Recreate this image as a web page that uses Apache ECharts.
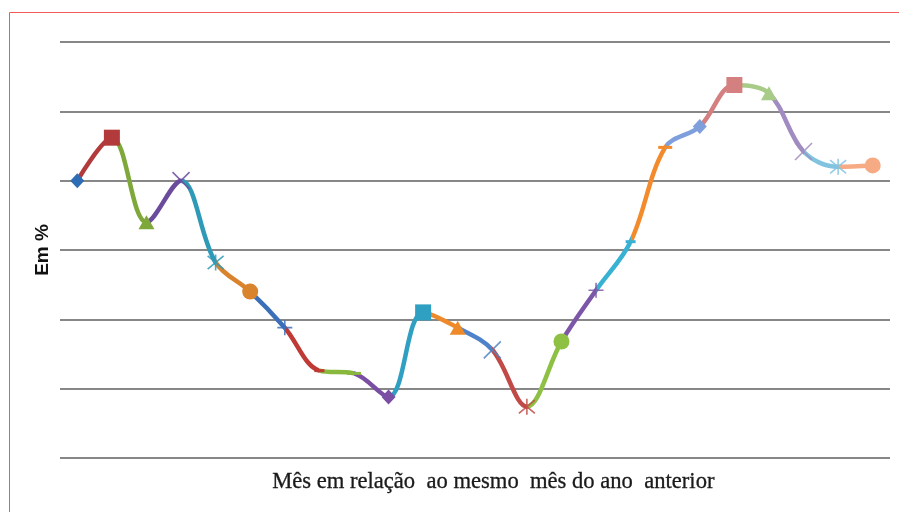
<!DOCTYPE html>
<html>
<head>
<meta charset="utf-8">
<script src="https://cdn.jsdelivr.net/npm/echarts@6/dist/echarts.min.js"></script>
<style>
  html, body { margin: 0; padding: 0; background: #ffffff; }
  #chart { width: 899px; height: 512px; }
</style>
</head>
<body>
<div id="chart"></div>
<script>
// Monthly variation, 24 consecutive months
const months = ['1','2','3','4','5','6','7','8','9','10','11','12',
                '13','14','15','16','17','18','19','20','21','22','23','24'];
const values = [2.00, 2.31, 1.70, 2.00, 1.41, 1.20, 0.94, 0.63, 0.61, 0.44, 1.05, 0.94,
                0.78, 0.37, 0.84, 1.21, 1.56, 2.24, 2.39, 2.69, 2.63, 2.21, 2.10, 2.11];

// y scale (gridlines only, no tick labels)
const yMin = 0, yMax = 3, yStep = 0.5;

// one colour per point; the segment reaching a point takes its colour
const pointColors = ['#2e6db3', '#b23a3a', '#7fa83a', '#6b4b9c', '#2f9ab8', '#d9832c',
                     '#3b70b8', '#bf3a34', '#88b83c', '#7a4ea3', '#2f9fc2', '#ee8a2a',
                     '#4f82c8', '#c24a46', '#8dc043', '#7d56a8', '#38b2d3', '#f38b2c',
                     '#7f9fdc', '#d48080', '#a8cc88', '#a08cc0', '#82c4df', '#f6ab85'];

// marker shapes repeat every nine points
const markerCycle = [
  { symbol: 'diamond', size: [14, 15], stroke: false },
  { symbol: 'rect', size: 16, stroke: false },
  { symbol: 'triangle', size: [16, 14], stroke: false },
  { symbol: 'path://M0,0L10,10M10,0L0,10', size: 17, stroke: true },
  { symbol: 'path://M0,0L10,10M10,0L0,10M5,-1L5,11', size: 16, stroke: true },
  { symbol: 'circle', size: 16, stroke: false },
  { symbol: 'path://M5,0L5,10M0,5L10,5', size: 15, stroke: true },
  { symbol: 'rect', size: [10, 3], stroke: false },
  { symbol: 'rect', size: [14, 3], stroke: false }
];

const seriesData = values.map((v, i) => {
  const m = markerCycle[i % markerCycle.length];
  const c = pointColors[i];
  return {
    value: v,
    symbol: m.symbol,
    symbolSize: m.size,
    itemStyle: m.stroke
      ? { color: c, borderColor: c, borderWidth: 1.6, opacity: 0.85 }
      : { color: c, borderColor: c, borderWidth: 0 }
  };
});

const pieces = pointColors.map((c, i) =>
  i === 0 ? { lte: 0, color: c } : { gt: i - 1, lte: i, color: c }
);

const chart = echarts.init(document.getElementById('chart'), null, { renderer: 'canvas' });

chart.setOption({
  animation: false,
  backgroundColor: '#ffffff',
  grid: { left: 60, right: 9, top: 42, bottom: 54 },
  xAxis: {
    type: 'category',
    data: months,
    boundaryGap: true,
    axisLine: { show: false },
    axisTick: { show: false },
    axisLabel: { show: false },
    splitLine: { show: false }
  },
  yAxis: {
    type: 'value',
    min: yMin,
    max: yMax,
    interval: yStep,
    name: 'Em %',
    nameLocation: 'middle',
    nameRotate: 90,
    nameGap: 8,
    nameTextStyle: {
      fontFamily: 'Liberation Sans',
      fontWeight: 'bold',
      fontSize: 19,
      color: '#111111'
    },
    axisLine: { show: false },
    axisTick: { show: false },
    axisLabel: { show: false },
    splitLine: { show: true, lineStyle: { color: '#878787', width: 2.2 } }
  },
  visualMap: {
    type: 'piecewise',
    show: false,
    dimension: 0,
    seriesIndex: 0,
    pieces: pieces
  },
  series: [{
    type: 'line',
    data: seriesData,
    smooth: 0.35,
    showSymbol: true,
    showAllSymbol: true,
    lineStyle: { width: 4.5 },
    z: 3
  }],
  graphic: [
    {
      type: 'line',
      shape: { x1: 9.5, y1: 12.5, x2: 899, y2: 12.5 },
      style: { stroke: '#f05a5a', lineWidth: 1 }
    },
    {
      type: 'line',
      shape: { x1: 9.5, y1: 12.5, x2: 9.5, y2: 512 },
      style: { stroke: '#f05a5a', lineWidth: 1 }
    },
    {
      type: 'text',
      left: 272,
      top: 470,
      style: {
        text: 'Mês em relação  ao mesmo  mês do ano  anterior',
        font: '22.6px "Liberation Serif"',
        fill: '#1a1a1a',
        stroke: '#1a1a1a',
        lineWidth: 0.3
      }
    }
  ]
});
</script>
</body>
</html>
